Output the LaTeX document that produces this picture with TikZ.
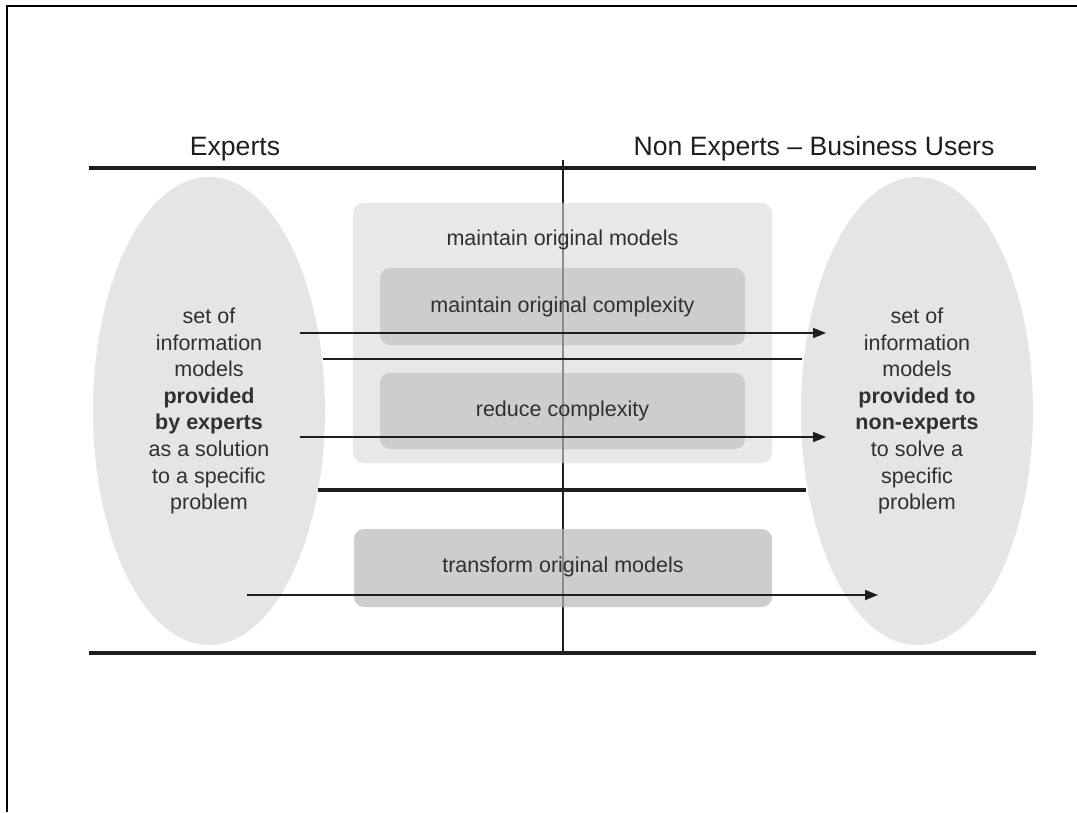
\documentclass[tikz,border=0pt]{standalone}
\usepackage{fontspec}
\setmainfont{Liberation Sans}
\usetikzlibrary{shapes.geometric,arrows.meta}
\definecolor{ink}{HTML}{1E1E1E}
\definecolor{bodyink}{HTML}{303030}
\definecolor{ovalfill}{HTML}{E5E5E5}
\definecolor{outerfill}{HTML}{E8E8E8}
\definecolor{innerfill}{HTML}{CDCDCD}
\begin{document}
\begin{tikzpicture}[x=1pt,y=-1pt,
  head/.style={font=\fontsize{26.6}{30}\selectfont, text=ink, inner sep=0pt},
  body/.style={font=\fontsize{21.5}{26.6}\selectfont, text=bodyink, align=center},
  oval/.style={ellipse, fill=ovalfill, minimum width=232pt, minimum height=468pt, inner sep=0pt},
  groupbox/.style={fill=outerfill, rounded corners=10pt, minimum width=419pt, minimum height=260pt, inner sep=0pt},
  taskbox/.style={fill=innerfill, rounded corners=10pt, inner sep=0pt},
  rule/.style={line width=4.5pt, draw=ink},
  flow/.style={line width=1.6pt, draw=ink, -{Triangle[length=13pt,width=10pt]}},
  split/.style={line width=2.4pt, draw=ink},
  splitbold/.style={line width=3.6pt, draw=ink},
  axis/.style={line width=2pt, draw=ink},
  axisfaint/.style={line width=2pt, draw=black!45}
]
\useasboundingbox (0,0) rectangle (1077,812);

% page frame
\draw[line width=2pt, draw=black] (7,812) -- (7,6) -- (1077,6);

% column headings
\node[head, anchor=base] (experts) at (235,155) {Experts};
\node[head, anchor=base] (nonexperts) at (814,155) {Non Experts – Business Users};

% the two sets of models
\node[oval, body] (src) at (209,411) {set of\\information\\models\\\textbf{provided}\\\textbf{by experts}\\as a solution\\to a specific\\problem};
\node[oval, body] (dst) at (917,411) {set of\\information\\models\\\textbf{provided to}\\\textbf{non-experts}\\to solve a\\specific\\problem};

% central axis
\coordinate (axtop) at (563,160);
\coordinate (axbot) at (563,653);
\draw[axis] (axtop) -- (axbot);

% approach boxes
\node[groupbox] (maintain) at (562.5,333) {};
\node[taskbox, minimum width=365pt, minimum height=77pt] (keep) at (562.5,306.5) {};
\node[taskbox, minimum width=365pt, minimum height=76pt] (reduce) at (562.5,411) {};
\node[taskbox, minimum width=418pt, minimum height=78pt] (transform) at (563,568) {};

% axis seen through the boxes
\draw[axisfaint] (maintain.north -| axtop) -- (maintain.south -| axtop);
\draw[axisfaint] (transform.north -| axtop) -- (transform.south -| axtop);

% box labels
\node[body] (maintainlbl) at (562.5,240) {maintain original models};
\node[body] (keeplbl) at (keep.center) {maintain original complexity};
\node[body] (reducelbl) at (reduce.center) {reduce complexity};
\node[body] (transformlbl) at (563,567) {transform original models};

% horizontal rules
\coordinate (rtl) at (89,168);
\coordinate (rtr) at (1036,168);
\coordinate (rbl) at (89,653);
\coordinate (rbr) at (1036,653);
\draw[rule] (rtl) -- (rtr);
\draw[rule] (rbl) -- (rbr);

% flows between the two sets
\coordinate (a1s) at (300,333);
\coordinate (a1e) at (826,333);
\coordinate (a2s) at (300,437);
\coordinate (a2e) at (826,437);
\coordinate (a3s) at (247,595);
\coordinate (a3e) at (878,595);
\draw[flow] (a1s) -- (a1e);
\draw[flow] (a2s) -- (a2e);
\draw[flow] (a3s) -- (a3e);

% separators
\coordinate (s1s) at (323,359);
\coordinate (s1e) at (802,359);
\coordinate (s2s) at (318,490);
\coordinate (s2e) at (806,490);
\draw[split] (s1s) -- (s1e);
\draw[splitbold] (s2s) -- (s2e);
\end{tikzpicture}
\end{document}
